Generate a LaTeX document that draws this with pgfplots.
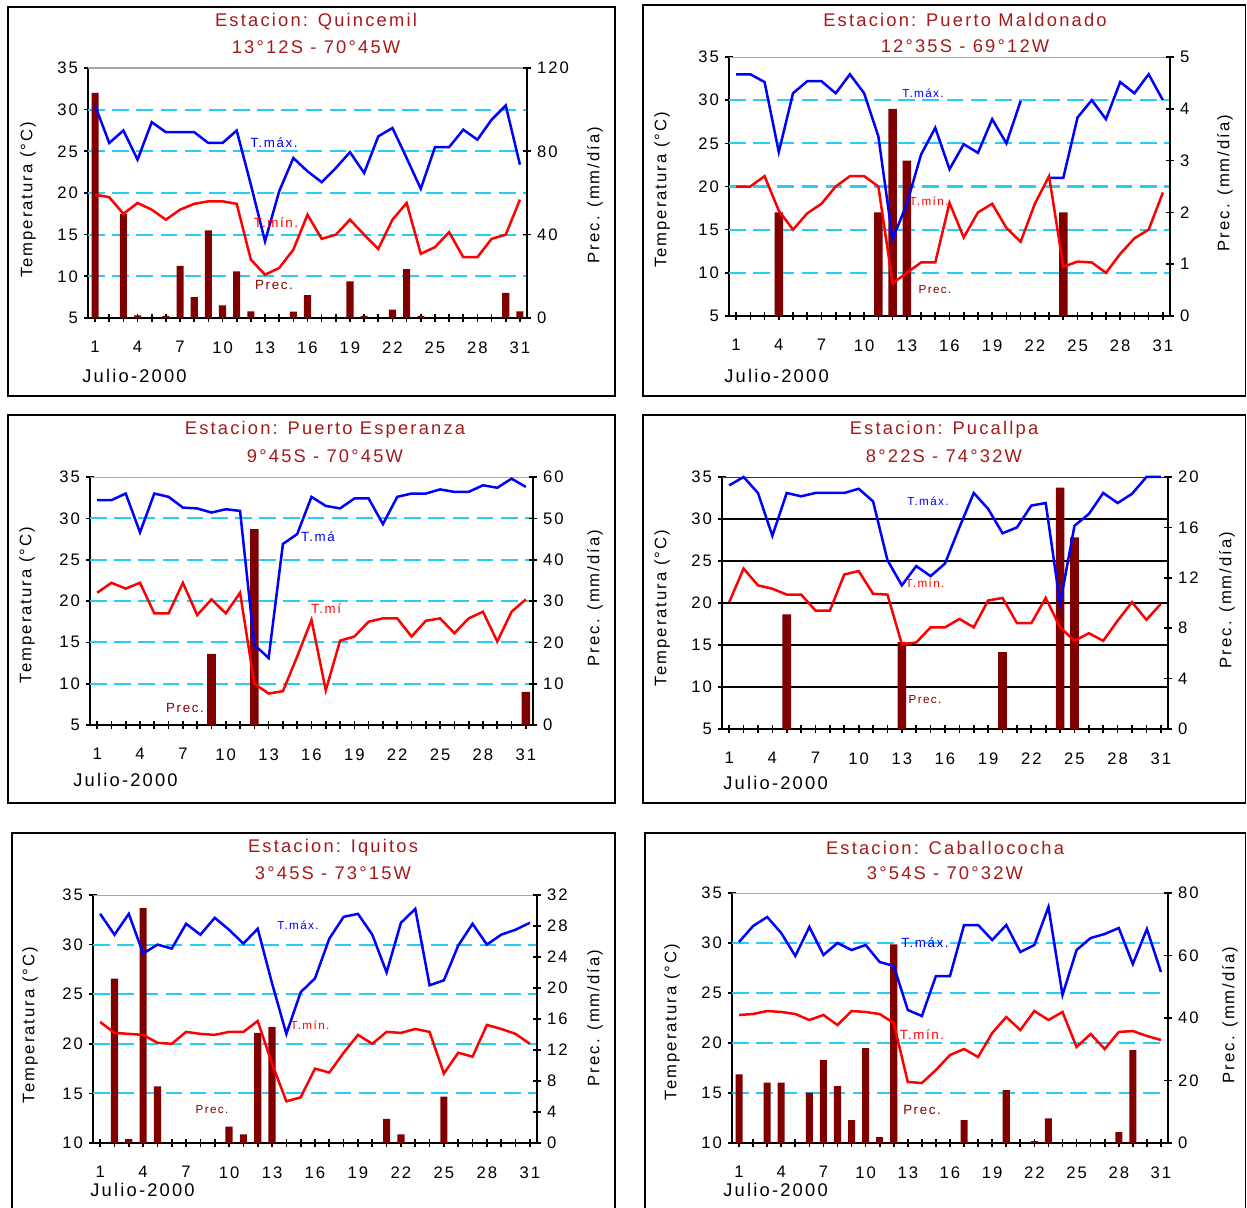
\documentclass[border=0pt]{standalone}
\usepackage{pgfplots}
\pgfplotsset{compat=1.18}
\usepackage{pgfplotstable}
\usepackage{fontspec}
\setmainfont{Liberation Sans}[LetterSpace=12]
\definecolor{tred}{RGB}{165,25,25}
\definecolor{barred}{RGB}{128,0,0}
\definecolor{gridcyan}{RGB}{40,205,245}
\definecolor{tblue}{RGB}{0,0,255}
\definecolor{tredl}{RGB}{255,0,0}

\pgfplotstableread{
d tmax tmin prec
1 30.5 19.8 108
2 26.0 19.5 0
3 27.5 17.5 50
4 24.0 18.8 1.3
5 28.5 18.0 0
6 27.3 16.8 1
7 27.3 18.0 25
8 27.3 18.7 10
9 26.0 19.0 42
10 26.0 19.0 6
11 27.5 18.7 22.4
12 21.0 12.0 3.2
13 14.2 10.2 0
14 20.2 11.0 0
15 24.2 13.2 3
16 22.6 17.4 11
17 21.3 14.5 0
18 23.0 15.0 0
19 24.9 16.8 17.6
20 22.4 15.0 1
21 26.8 13.3 0
22 27.8 16.8 4
23 24.2 18.8 23.5
24 20.5 12.7 1
25 25.5 13.5 0
26 25.5 15.3 0
27 27.6 12.3 0
28 26.4 12.3 0
29 28.8 14.5 0
30 30.5 15.0 12
31 23.4 19.2 3.2
}\tA

\pgfplotstableread{
d tmax tmin prec
1 33 20 0
2 33 20 0
3 32.1 21.2 0
4 24 17.2 2
5 30.8 15 0
6 32.2 16.9 0
7 32.2 18 0
8 30.8 20 0
9 33 21.2 0
10 30.8 21.2 0
11 25.8 20 2
12 13.9 8.8 4
13 18 10 3
14 23.7 11.2 0
15 26.8 11.2 0
16 22 18.1 0
17 24.9 14.1 0
18 23.9 17 0
19 27.8 18 0
20 25 15.2 0
21 29.9 13.6 0
22 nan 18 0
23 21 21.2 0
24 21 10.7 2
25 28 11.3 0
26 30 11.2 0
27 27.8 10 0
28 32.1 12.2 0
29 30.8 14 0
30 33 15 0
31 30 19.3 0
}\tB

\pgfplotstableread{
d tmax tmin prec
1 32.2 21 0
2 32.2 22.2 0
3 33 21.5 0
4 28.3 22.2 0
5 33 18.5 0
6 32.6 18.5 0
7 31.3 22.2 0
8 31.2 18.3 0
9 30.7 20.2 17.2
10 31.1 18.5 0
11 30.9 21 0
12 14.7 10 47.4
13 13.1 8.8 0
14 26.9 9.1 0
15 28.1 13.3 0
16 32.6 17.7 0
17 31.5 9.2 0
18 31.2 15.2 0
19 32.4 15.7 0
20 32.4 17.5 0
21 29.3 17.9 0
22 32.6 17.9 0
23 33 15.7 0
24 33 17.6 0
25 33.5 17.9 0
26 33.2 16.1 0
27 33.2 17.9 0
28 34 18.7 0
29 33.7 15.1 0
30 34.8 18.7 0
31 33.8 20.2 8
}\tC

\pgfplotstableread{
d tmax tmin prec
1 34 20.1 0
2 35 24.1 0
3 33.1 22.1 0
4 28 21.7 0
5 33.1 21 9.1
6 32.7 21 0
7 33.1 19.1 0
8 33.1 19.1 0
9 33.1 23.4 0
10 33.6 23.8 0
11 32.1 21.1 0
12 25.1 21 0
13 22.1 15.1 6.9
14 24.4 15.3 0
15 23.2 17.1 0
16 24.7 17.1 0
17 29 18.1 0
18 33.1 17.1 0
19 31.2 20.3 0
20 28.3 20.6 6.1
21 29 17.6 0
22 31.6 17.6 0
23 31.9 20.6 0
24 19.9 17.1 19.15
25 29.2 15.5 15.2
26 30.6 16.4 0
27 33.1 15.5 0
28 31.9 17.9 0
29 33 20.1 0
30 35 18 0
31 35 19.9 0
}\tD

\pgfplotstableread{
d tmax tmin prec
1 33.1 22.2 0
2 31 21.1 21.2
3 33.1 21 0.5
4 29.1 20.9 30.3
5 30 20.1 7.3
6 29.6 20 0
7 32.1 21.2 0
8 31 21 0
9 32.7 20.9 0
10 31.5 21.2 2.1
11 30.1 21.2 1.1
12 31.6 22.3 14.2
13 26.1 18 15
14 21 14.2 0
15 25.2 14.6 0
16 26.6 17.5 0
17 30.6 17.1 0
18 32.8 19.1 0
19 33.1 20.9 0
20 31 20 0
21 27.2 21.2 3.1
22 32.2 21.1 1.1
23 33.6 21.5 0
24 25.9 21.2 0
25 26.4 17 6
26 29.9 19.1 0
27 32.1 18.7 0
28 30 21.9 0
29 31 21.5 0
30 31.5 21 0
31 32.2 20 0
}\tE

\pgfplotstableread{
d tmax tmin prec
1 30.1 22.8 22
2 31.7 22.9 0
3 32.6 23.2 19.3
4 31 23.1 19.3
5 28.7 22.9 0
6 31.6 22.3 16.1
7 28.8 22.8 26.5
8 30 21.8 18.2
9 29.3 23.2 7.3
10 29.8 23.1 30.4
11 28.1 22.9 1.9
12 27.7 22 63.6
13 23.3 16.1 0
14 22.7 16 0
15 26.7 17.3 0
16 26.7 18.8 0
17 31.8 19.4 7.3
18 31.8 18.6 0
19 30.3 21 0
20 31.8 22.6 16.9
21 29.1 21.3 0
22 29.8 23.2 0.6
23 33.6 22.3 7.9
24 24.8 23.1 0
25 29.3 19.6 0
26 30.5 20.9 0
27 30.9 19.4 0
28 31.5 21.1 3.5
29 27.9 21.2 29.7
30 31.4 20.7 0
31 27.1 20.3 0
}\tF

\tikzset{topline/.style={draw=gray!70, line width=1pt}}
\pgfplotsset{
  every axis/.append style={font=\fontsize{10}{12}\selectfont},
  pnl/.style={scale only axis, anchor=south west, xmin=0.5, xmax=31.5,
    /pgf/number format/assume math mode=true},
  tA/.style={pnl, axis x line*=bottom, axis y line*=left,
    axis line style={line width=1.2pt, black},
    xtick={1,...,31},
    xticklabels={1,,,4,,,7,,,10,,,13,,,16,,,19,,,22,,,25,,,28,,,31},
    xticklabel style={yshift=-8pt},
    tick align=center, major tick length=5pt,
    tick style={black, line width=1pt},
    extra y tick labels={},
    extra y tick style={grid=major, major tick length=0pt},
    grid style={gridcyan, dash pattern=on 10pt off 4.5pt, line width=1.3pt}},
  pB/.style={pnl, axis x line=none, axis y line*=right, xtick=\empty,
    axis line style={line width=1.2pt, black},
    tick align=center, major tick length=5pt,
    tick style={black, line width=1pt}, ymin=0},
  pC/.style={pnl, hide axis, clip=false, unbounded coords=jump},
  bars/.style={ybar, bar width=0.5, fill=barred, draw=none},
  lmax/.style={tblue, line width=1.5pt, mark=none},
  lmin/.style={tredl, line width=1.5pt, mark=none},
}

\newcommand{\Julio}{\fontsize{11}{13}\selectfont Julio-2000}

\begin{document}
\begin{tikzpicture}
\begin{scope}[x=0.6pt,y=-0.6pt]
\useasboundingbox (0,0) rectangle (1247,1207);
\draw[line width=1.1pt] (8,7) rectangle (615,396);
\draw[line width=1.1pt] (643,5) rectangle (1245.5,396);
\draw[line width=1.1pt] (8,415) rectangle (615,803);
\draw[line width=1.1pt] (643,415) rectangle (1245.5,803);
\draw[line width=1.1pt] (12,833) rectangle (615,1220);
\draw[line width=1.1pt] (645,833) rectangle (1245.5,1220);

\tikzset{ttl/.style={text=tred, font=\fontsize{11}{13}\selectfont, inner sep=0pt}}
\node[ttl] at (316,22) {Estacion: Quincemil};
\node[ttl] at (316,47) {13°12S - 70°45W};
\node[ttl] at (965,20) {Estacion: Puerto Maldonado};
\node[ttl] at (965,46) {12°35S - 69°12W};
\node[ttl] at (325,430) {Estacion: Puerto Esperanza};
\node[ttl] at (325,456) {9°45S - 70°45W};
\node[ttl] at (944,430) {Estacion: Pucallpa};
\node[ttl] at (944,456) {8°22S - 74°32W};
\node[ttl] at (333,848) {Estacion: Iquitos};
\node[ttl] at (333,873) {3°45S - 73°15W};
\node[ttl] at (945,848) {Estacion: Caballococha};
\node[ttl] at (945,873) {3°54S - 70°32W};

\tikzset{yl/.style={rotate=90, font=\fontsize{10}{12}\selectfont, inner sep=0pt}}
\node[yl] at (28,200) {Temperatura (°C)};
\node[yl] at (595,195) {Prec. (mm/día)};
\node[yl] at (662,190) {Temperatura (°C)};
\node[yl] at (1225,183) {Prec. (mm/día)};
\node[yl] at (27,605) {Temperatura (°C)};
\node[yl] at (595,598) {Prec. (mm/día)};
\node[yl] at (662,608) {Temperatura (°C)};
\node[yl] at (1227,600) {Prec. (mm/día)};
\node[yl] at (30,1025) {Temperatura (°C)};
\node[yl] at (595,1018) {Prec. (mm/día)};
\node[yl] at (672,1022) {Temperatura (°C)};
\node[yl] at (1230,1015) {Prec. (mm/día)};

\tikzset{jl/.style={anchor=west, inner sep=0pt}}
\node[jl] at (82,376) {\Julio};
\node[jl] at (724,376) {\Julio};
\node[jl] at (73,780) {\Julio};
\node[jl] at (723,783) {\Julio};
\node[jl] at (90,1190) {\Julio};
\node[jl] at (723,1190) {\Julio};
\end{scope}

% ---------- Panel 1: Quincemil ----------
\begin{axis}[tA, at={(52.8pt,-190.8pt)}, width=263.4pt, height=150pt,
  ymin=5, ymax=35, ytick={5,10,...,35}, extra y ticks={10,15,20,25,30}]
\draw[topline] (rel axis cs:0,1) -- (rel axis cs:1,1);
\end{axis}
\begin{axis}[pB, at={(52.8pt,-190.8pt)}, width=263.4pt, height=150pt,
  ymax=120, ytick={0,40,80,120}]
\addplot[bars] table[x=d,y=prec]{\tA};
\end{axis}
\begin{axis}[pC, at={(52.8pt,-190.8pt)}, width=263.4pt, height=150pt,
  ymin=5, ymax=35]
\addplot[lmax] table[x=d,y=tmax]{\tA};
\addplot[lmin] table[x=d,y=tmin]{\tA};
\end{axis}

% ---------- Panel 2: Puerto Maldonado ----------
\begin{axis}[tA, at={(437.4pt,-189.6pt)}, width=264.6pt, height=155.4pt,
  ymin=5, ymax=35, ytick={5,10,...,35}, extra y ticks={10,15,20,25,30}]
\draw[topline] (rel axis cs:0,1) -- (rel axis cs:1,1);
\end{axis}
\begin{axis}[pB, at={(437.4pt,-189.6pt)}, width=264.6pt, height=155.4pt,
  ymax=5, ytick={0,1,...,5}]
\addplot[bars, bar width=0.6] table[x=d,y=prec]{\tB};
\end{axis}
\begin{axis}[pC, at={(437.4pt,-189.6pt)}, width=264.6pt, height=155.4pt,
  ymin=5, ymax=35]
\addplot[lmax] table[x=d,y=tmax]{\tB};
\addplot[lmin] table[x=d,y=tmin]{\tB};
\end{axis}

% ---------- Panel 3: Puerto Esperanza ----------
\begin{axis}[tA, at={(54pt,-435pt)}, width=265.8pt, height=148.8pt,
  ymin=5, ymax=35, ytick={5,10,...,35}, extra y ticks={10,15,20,25,30}]
\draw[topline] (rel axis cs:0,1) -- (rel axis cs:1,1);
\end{axis}
\begin{axis}[pB, at={(54pt,-435pt)}, width=265.8pt, height=148.8pt,
  ymax=60, ytick={0,10,...,60}]
\addplot[bars, bar width=0.6] table[x=d,y=prec]{\tC};
\end{axis}
\begin{axis}[pC, at={(54pt,-435pt)}, width=265.8pt, height=148.8pt,
  ymin=5, ymax=35]
\addplot[lmax] table[x=d,y=tmax]{\tC};
\addplot[lmin] table[x=d,y=tmin]{\tC};
\end{axis}

% ---------- Panel 4: Pucallpa ----------
\begin{axis}[tA, at={(433.2pt,-437.4pt)}, width=267.6pt, height=151.2pt,
  ymin=5, ymax=35, ytick={5,10,...,35}, extra y ticks={10,15,20,25,30},
  grid style={black, solid, line width=0.8pt}]
\draw[draw=gray!40!black, line width=1pt] (rel axis cs:0,1) -- (rel axis cs:1,1);
\end{axis}
\begin{axis}[pB, at={(433.2pt,-437.4pt)}, width=267.6pt, height=151.2pt,
  ymax=20, ytick={0,4,...,20}]
\addplot[bars, bar width=0.6] table[x=d,y=prec]{\tD};
\end{axis}
\begin{axis}[pC, at={(433.2pt,-437.4pt)}, width=267.6pt, height=151.2pt,
  ymin=5, ymax=35]
\addplot[lmax] table[x=d,y=tmax]{\tD};
\addplot[lmin] table[x=d,y=tmin]{\tD};
\end{axis}

% ---------- Panel 5: Iquitos ----------
\begin{axis}[tA, at={(55.8pt,-685.8pt)}, width=266.4pt, height=148.8pt,
  ymin=10, ymax=35, ytick={10,15,...,35}, extra y ticks={15,20,25,30}]
\draw[topline] (rel axis cs:0,1) -- (rel axis cs:1,1);
\end{axis}
\begin{axis}[pB, at={(55.8pt,-685.8pt)}, width=266.4pt, height=148.8pt,
  ymax=32, ytick={0,4,...,32}]
\addplot[bars] table[x=d,y=prec]{\tE};
\end{axis}
\begin{axis}[pC, at={(55.8pt,-685.8pt)}, width=266.4pt, height=148.8pt,
  ymin=10, ymax=35]
\addplot[lmax] table[x=d,y=tmax]{\tE};
\addplot[lmin] table[x=d,y=tmin]{\tE};
\end{axis}

% ---------- Panel 6: Caballococha ----------
\begin{axis}[tA, at={(439.2pt,-685.8pt)}, width=261.6pt, height=150pt,
  ymin=10, ymax=35, ytick={10,15,...,35}, extra y ticks={15,20,25,30}]
\draw[topline] (rel axis cs:0,1) -- (rel axis cs:1,1);
\end{axis}
\begin{axis}[pB, at={(439.2pt,-685.8pt)}, width=261.6pt, height=150pt,
  ymax=80, ytick={0,20,...,80}]
\addplot[bars] table[x=d,y=prec]{\tF};
\end{axis}
\begin{axis}[pC, at={(439.2pt,-685.8pt)}, width=261.6pt, height=150pt,
  ymin=10, ymax=35]
\addplot[lmax] table[x=d,y=tmax]{\tF};
\addplot[lmin] table[x=d,y=tmin]{\tF};
\end{axis}

% ---------- in-plot labels ----------
\begin{scope}[x=0.6pt,y=-0.6pt]
\tikzset{sm/.style={font=\fontsize{7}{8}\selectfont, inner sep=0pt},
         md/.style={font=\fontsize{8}{9}\selectfont, inner sep=0pt}}
\node[md, text=tblue] at (274,143) {T.máx.};
\node[md, text=tredl] at (276,223) {T.mín.};
\node[md, text=barred] at (274,285) {Prec.};
\node[sm, text=tblue] at (923,93) {T.máx.};
\node[sm, text=tredl] at (929,201) {T.mín.};
\node[sm, text=barred] at (935,290) {Prec.};
\node[md, text=tblue] at (318,537) {T.má};
\node[md, text=tredl] at (326,609) {T.mí};
\node[md, text=barred] at (185,708) {Prec.};
\node[sm, text=tblue] at (928,501) {T.máx.};
\node[sm, text=tredl] at (925,583) {T.mín.};
\node[sm, text=barred] at (925,700) {Prec.};
\node[sm, text=tblue] at (298,925) {T.máx.};
\node[sm, text=tredl] at (310,1025) {T.mín.};
\node[sm, text=barred] at (212,1110) {Prec.};
\node[md, text=tblue] at (925,943) {T.máx.};
\node[md, text=tredl] at (922,1035) {T.mín.};
\node[md, text=barred] at (922,1110) {Prec.};
\end{scope}
\end{tikzpicture}
\end{document}
